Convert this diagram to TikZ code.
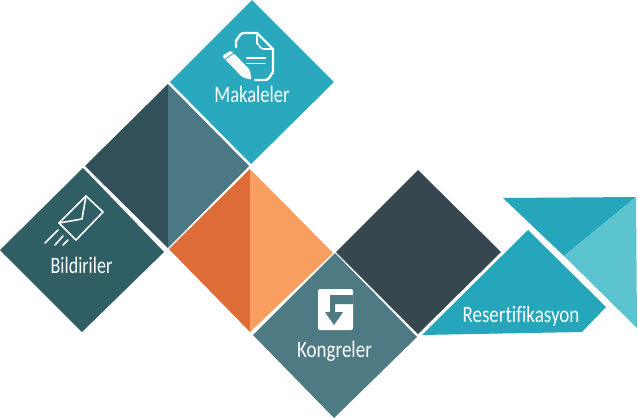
\documentclass[tikz,border=0pt]{standalone}
\usepackage{fontspec}
\setmainfont[Ligatures=NoCommon]{Carlito}
\definecolor{teal1}{HTML}{2AA9BE}
\definecolor{teal2}{HTML}{25A6BA}
\definecolor{teal3}{HTML}{5BC4CF}
\definecolor{deep}{HTML}{2F5E64}
\definecolor{slateL}{HTML}{32505A}
\definecolor{slateR}{HTML}{4B7884}
\definecolor{oraL}{HTML}{DE6C36}
\definecolor{oraR}{HTML}{F89E5F}
\definecolor{kong}{HTML}{4E7A84}
\definecolor{darkR}{HTML}{36474F}
\tikzset{
 lbl/.style={text=white,font=\fontsize{23.5}{23.5}\selectfont,inner sep=0pt,anchor=base,transform shape},
 ico/.style={draw=white,line width=2.4pt,line cap=round,line join=round},
}
\begin{document}
\begin{tikzpicture}[x=1pt,y=-1pt]
\useasboundingbox (0,0) rectangle (638,418);
\fill[white] (0,0) rectangle (638,418);
% diamonds
\fill[teal1] (252,0)--(334,82)--(251,164)--(170,82)--cycle;
\fill[deep] (83,168)--(164,252)--(82,332)--(0,250)--cycle;
\fill[slateL] (168,84)--(168,248)--(85,166)--cycle;
\fill[slateR] (168,84)--(249,166)--(168,248)--cycle;
\fill[oraL] (250,169)--(250,332)--(169,249)--cycle;
\fill[oraR] (250,169)--(333,253)--(250,332)--cycle;
\fill[kong] (335,253)--(417,337)--(334,418)--(253,335)--cycle;
\fill[darkR] (418,170)--(501,252)--(418,334)--(336,252)--cycle;
\fill[teal2] (528,230)--(606,307)--(582,332)--(422,335)--cycle;
\fill[teal2] (503,198)--(636,197)--(564,256)--cycle;
\fill[teal3] (636,197)--(637,328)--(564,256)--cycle;
% labels
\node[lbl,xscale=.79] (mak) at (252,102) {Makaleler};
\node[lbl,xscale=.77] (bil) at (81.5,273) {Bildiriler};
\node[lbl,xscale=.81] (kon) at (334.5,357) {Kongreler};
\node[lbl,xscale=.81] (res) at (521,322) {Resertifikasyon};
% page and pencil
\draw[ico] (236,47)--(236,40) to[out=-90,in=180] (243,33)--(257,33)--(273,49)--(273,73) to[out=90,in=0] (266,80)--(255,80);
\draw[ico,line width=1.6pt] (257,35)--(257,44) to[out=90,in=180] (263,49)--(272,49);
\draw[ico,line width=1.6pt,line cap=butt] (246,58)--(266,58) (246,63.5)--(266,63.5);
\fill[white,rounded corners=1.5pt] (222,56)--(231,50.5)--(250,70)--(251.5,80)--(242,77)--cycle;
\draw[teal1,line width=.8pt] (224,60)--(234,53);
% envelope
\draw[ico,line width=1.6pt] (86,196)--(103,212)--(76,240)--(59,223)--cycle;
\draw[ico,line width=1.6pt] (59,223)--(82,219)--(86,196);
\draw[ico,line width=1.6pt] (45,243)--(58,230) (55,245)--(63,236) (63,245)--(68,240);
% G icon
\fill[white,rounded corners=2pt] (318,289) rectangle (353,330);
\fill[kong] (330,295)--(353,295)--(353,304)--(335,304)--(335,312)--(343,312)--(334,325)--(325,312)--(330,312)--cycle;
\end{tikzpicture}
\end{document}
